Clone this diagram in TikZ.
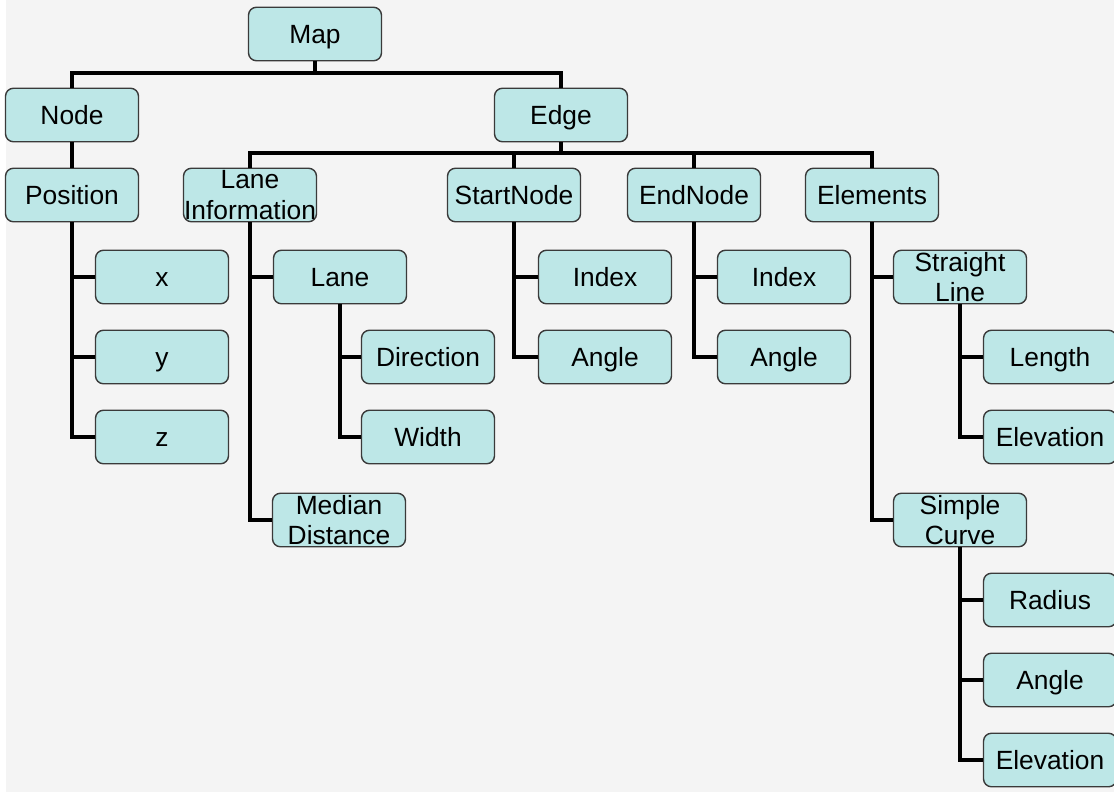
\documentclass[tikz,border=0pt]{standalone}
\usepackage{fontspec}
\setmainfont{Liberation Sans}
\usepackage{tikz}
\usetikzlibrary{positioning,calc}
\definecolor{boxcyan}{RGB}{189,231,231}
\definecolor{boxedge}{RGB}{58,58,58}
\definecolor{pagegray}{RGB}{244,244,244}

\begin{document}
\begin{tikzpicture}[
  x=0.02cm, y=-0.02cm,
  font=\fontsize{15}{17.3}\selectfont,
  basebox/.style={draw=boxedge, fill=boxcyan, rounded corners=4.5pt, align=center,
               minimum width=2.66cm, minimum height=1.07cm, inner sep=0pt, line width=0.8pt},
  item/.style={basebox, text height=11.7pt, text depth=1pt},
  item2/.style={basebox, execute at begin node={\rule{0pt}{13pt}}},
  conn/.style={line width=2.3pt, color=black}]
\useasboundingbox (0,0) rectangle (1114,792);
\fill[pagegray] (6,0) rectangle (1114,792);
% top levels
\node[item] (map) at (315,34) {Map};
\node[item] (node) at (72,115) {Node};
\node[item] (edge) at (561,115) {Edge};
% edge children row
\node[item] (pos) at (72,195) {Position};
\node[item2] (laneinfo) at (250,195) {Lane\\Information};
\node[item] (startnode) at (514,195) {StartNode};
\node[item] (endnode) at (694,195) {EndNode};
\node[item] (elements) at (872,195) {Elements};
% position
\node[item] (px) at (162,277) {x};
\node[item] (py) at (162,357) {y};
\node[item] (pz) at (162,437) {z};
% lane information
\node[item] (lane) at (340,277) {Lane};
\node[item] (direction) at (428,357) {Direction};
\node[item] (width) at (428,437) {Width};
\node[item2] (median) at (339,520) {Median\\Distance};
% start / end node
\node[item] (sindex) at (605,277) {Index};
\node[item] (sangle) at (605,357) {Angle};
\node[item] (eindex) at (784,277) {Index};
\node[item] (eangle) at (784,357) {Angle};
% elements
\node[item2] (straight) at (960,277) {Straight\\Line};
\node[item] (length) at (1050,357) {Length};
\node[item] (selev) at (1050,437) {Elevation};
\node[item2] (curve) at (960,520) {Simple\\Curve};
\node[item] (radius) at (1050,600) {Radius};
\node[item] (cangle) at (1050,680) {Angle};
\node[item] (celev) at (1050,760) {Elevation};
% buses
\coordinate (mapbus) at (map.south |- 0,73);
\coordinate (edgebus) at (edge.south |- 0,153);
\draw[conn] (map.south) -- (mapbus);
\draw[conn] (mapbus) -| (node.north);
\draw[conn] (mapbus) -| (edge.north);
\draw[conn] (node.south) -- (pos.north);
\draw[conn] (edge.south) -- (edgebus);
\foreach \kid in {laneinfo,startnode,endnode,elements}
  \draw[conn] (edgebus) -| (\kid.north);
% vertical chains
\foreach \kid in {px,py,pz}
  \draw[conn] (pos.south) |- (\kid.west);
\foreach \kid in {lane,median}
  \draw[conn] (laneinfo.south) |- (\kid.west);
\foreach \kid in {direction,width}
  \draw[conn] (lane.south) |- (\kid.west);
\foreach \kid in {sindex,sangle}
  \draw[conn] (startnode.south) |- (\kid.west);
\foreach \kid in {eindex,eangle}
  \draw[conn] (endnode.south) |- (\kid.west);
\foreach \kid in {straight,curve}
  \draw[conn] (elements.south) |- (\kid.west);
\foreach \kid in {length,selev}
  \draw[conn] (straight.south) |- (\kid.west);
\foreach \kid in {radius,cangle,celev}
  \draw[conn] (curve.south) |- (\kid.west);
\end{tikzpicture}
\end{document}
